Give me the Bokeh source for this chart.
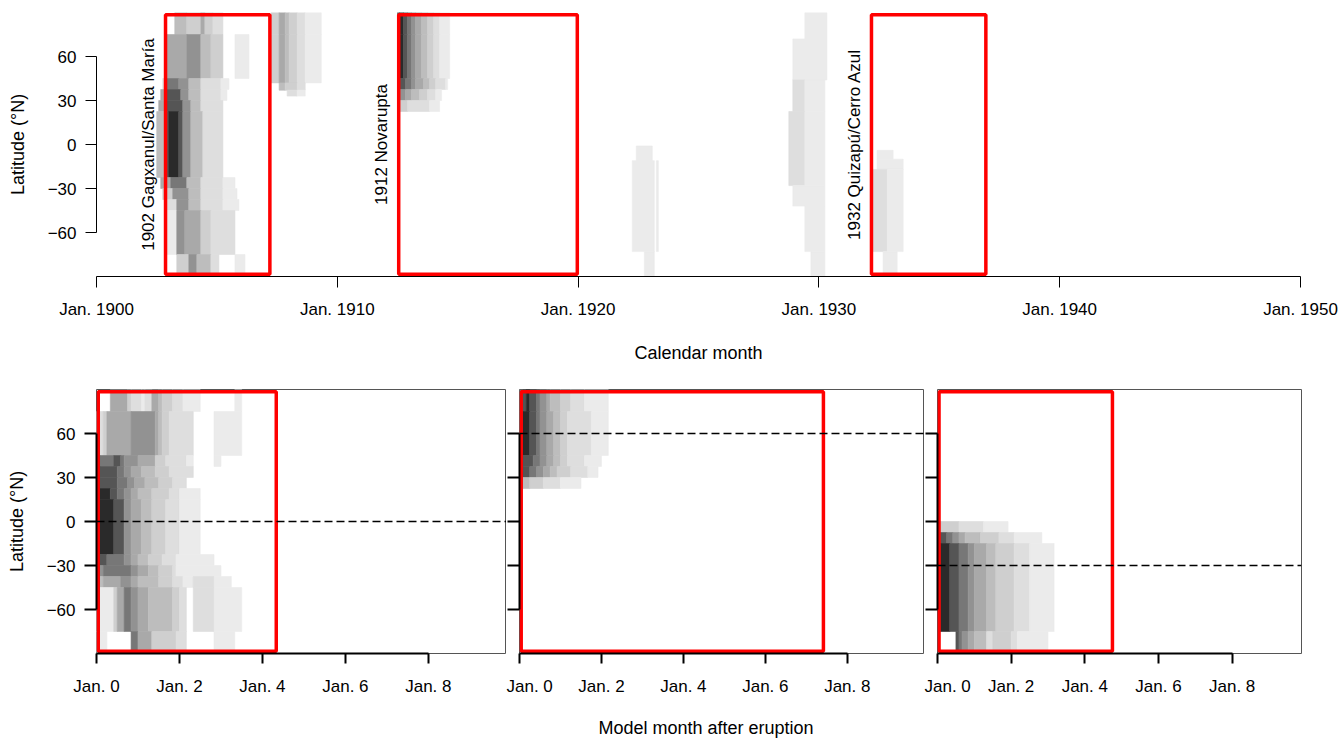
from bokeh.plotting import figure
from bokeh.models import Range1d, FixedTicker, ColumnDataSource, Span, Title
from bokeh.layouts import column, row
from bokeh.embed import file_html
from bokeh.resources import INLINE
from bokeh.core.properties import value
import math

FONT = "Liberation Sans"
FS = "17px"
FS_LAB = "18px"

# ---------------- data ----------------
lat_ticks = [-60, -30, 0, 30, 60]
lat_tick_labels = ["\u221260", "\u221230", "0", "30", "60"]

cal_tick_years = [1900, 1910, 1920, 1930, 1940, 1950]
cal_tick_labels = ["Jan. 1900", "Jan. 1910", "Jan. 1920", "Jan. 1930", "Jan. 1940", "Jan. 1950"]

model_tick_months = [0, 24, 48, 72, 96]
model_tick_labels = ["Jan. 0", "Jan. 2", "Jan. 4", "Jan. 6", "Jan. 8"]

eruption_labels = ["1902 Gagxanul/Santa María", "1912 Novarupta", "1932 Quizapú/Cerro Azul"]
eruption_start_month = [34.4, 150.6, 386.2]   # months since Jan. 1900
window_months = [52, 89, 57]
eruption_ref_lat = [0, 60, -30]

# grey level 0 (white) .. 9 (darkest)
grey_levels = ["#FFFFFF", "#EBEBEB", "#DEDEDE", "#CFCFCF", "#BDBDBD",
               "#A9A9A9", "#929292", "#777777", "#555555", "#2A2A2A"]

# --- calendar (top) panel: (start month since Jan. 1900, rows of (lat_hi, lat_lo, monthly levels))
cal_santa_maria_start = 30
cal_santa_maria = [
    (90, 75, "000000000444444333333355333322222"),
    (75, 45, "0000055555555556666666444443333330000001111111"),
    (45, 37.5, "000227777776666644444422222222221111"),
    (37.5, 30, "00555888888866664444442222222222111"),
    (30, 22.5, "055558888888866664444422222222222"),
    (22.5, -22.5, "444448999998866664444442222222222"),
    (-22.5, -30, "005555577777777444444422222222222111111"),
    (-30, -37.5, "0003333366666666444444222222222221111111"),
    (-37.5, -45, "00002222226666664444442222222222211111111"),
    (-45, -75, "000011111166665555555533333222222222222"),
    (-75, -90, "00000000003333336666444444422220000000011111"),
]
cal_1907_start = 87
cal_1907 = [
    (90, 75, "3333555443333222211111111"),
    (75, 42, "3333555443333222211111111"),
    (42, 37, "00004443333332222"),
    (37, 33, "00000000222221111"),
]
cal_novarupta_start = 150
cal_novarupta = [
    (90, 75, "89988776655544433322211111"),
    (75, 45, "99988776655544433322211111"),
    (45, 37.5, "7888777665555444333222221"),
    (37.5, 30, "6666555444433332222111"),
    (30, 22.5, "333332222222222211111"),
]
cal_1922_start = 267
cal_1922 = [
    (-1, -11, "0011111111"),
    (-11, -73, "1111111111101"),
    (-73, -90, "00000011111"),
]
cal_1929_start = 344
cal_1929 = [
    (90, 72, "00000000011111111111"),
    (72, 44, "00011111111111111111"),
    (44, 22.5, "0002222221111111111"),
    (22.5, -28, "0222222221111111111"),
    (-28, -42, "0001111111111111111"),
    (-42, -73, "0000000001111111111"),
    (-73, -90, "0000000000001111111"),
]
cal_quizapu_start = 387
cal_quizapu = [
    (-4, -10, "0011111111"),
    (-10, -17, "001111111111111"),
    (-17, -73, "222222211111111"),
    (-73, -90, "000001111111"),
]

# --- model panels: months after eruption
model_santa_maria = [
    (90, 75, "0000555553222122554333222111110000000000110"),
    (75, 45, "2235555555666666654332222222000000111111110"),
    (45, 37.5, "4777788766665555533322222211000000110000000"),
    (37.5, 30, "7888887766555444433332222222000000000000000"),
    (30, 22.5, "8888887776655544443333222200000000000000000"),
    (22.5, 15, "9999887766554444333332221111110000000000000"),
    (15, -22.5, "9999988866555444333322221111110000000000000"),
    (-22.5, -30, "8887777766554443333222211111111111000000000"),
    (-30, -37.5, "6677777777665554443333211111111111110000000"),
    (-37.5, -45, "4455555666554444443333222111222222111110000"),
    (-45, -75, "1111135577665554444444332200222222111111110"),
    (-75, -90, "1110000000775555333333322200000000111111000"),
]
model_novarupta = [
    (90, 75, "789887665444333222211111110000"),
    (75, 45, "799887665544332222222111110000"),
    (45, 37.5, "688877665544332222211111000000"),
    (37.5, 30, "688776655443333222221110000000"),
    (30, 22.5, "244333322222111111000000000000"),
]
model_quizapu = [
    (0, -7.5, "2333333222222221111111100000000000000000"),
    (-7.5, -15, "7887766554444433333322222111111111000000"),
    (-15, -75, "8999888777665555444333333222221111111100"),
    (-75, -90, "0000008766554444223333332211111111110000"),
]

cal_events = [
    (cal_santa_maria_start, cal_santa_maria),
    (cal_1907_start, cal_1907),
    (cal_novarupta_start, cal_novarupta),
    (cal_1922_start, cal_1922),
    (cal_1929_start, cal_1929),
    (cal_quizapu_start, cal_quizapu),
]
model_panels = [model_santa_maria, model_novarupta, model_quizapu]


def build_cells(rows, start, scale, offset, data=None):
    if data is None:
        data = dict(left=[], right=[], top=[], bottom=[], color=[])
    for hi, lo, levels in rows:
        n = len(levels)
        i = 0
        while i < n:
            j = i
            while j + 1 < n and levels[j + 1] == levels[i]:
                j += 1
            lv = int(levels[i])
            if lv > 0:
                data["left"].append(offset + (start + i) * scale)
                data["right"].append(offset + (start + j + 1) * scale)
                data["top"].append(hi)
                data["bottom"].append(lo)
                data["color"].append(grey_levels[lv])
            i = j + 1
    return data


def style_common(p):
    p.background_fill_color = "white"
    p.border_fill_color = "white"
    p.xgrid.visible = False
    p.ygrid.visible = False
    for ax in (p.xaxis[0], p.yaxis[0]):
        ax.minor_tick_line_color = None
        ax.major_tick_in = 0
        ax.axis_line_color = "black"
        ax.major_tick_line_color = "black"
        ax.major_label_text_font = FONT
        ax.major_label_text_font_size = FS
        ax.major_label_text_color = "black"
        ax.axis_label_text_font = FONT
        ax.axis_label_text_font_size = FS_LAB
        ax.axis_label_text_font_style = "normal"
        ax.axis_label_text_color = "black"


def style_lat_axis(p, show_labels, tick_w, tick_len):
    ya = p.yaxis[0]
    ya.ticker = FixedTicker(ticks=lat_ticks)
    ya.bounds = (lat_ticks[0], lat_ticks[-1])
    ya.major_tick_out = tick_len
    ya.major_tick_line_width = tick_w
    ya.axis_line_width = tick_w
    if show_labels:
        ya.major_label_overrides = dict(zip(lat_ticks, lat_tick_labels))
        ya.major_label_standoff = 9
        ya.axis_label = "Latitude (°N)"
        ya.axis_label_standoff = 17
    else:
        ya.major_label_overrides = {t: "" for t in lat_ticks}
        ya.major_label_standoff = 0


# ---------------- top panel ----------------
top = figure(frame_width=1204, frame_height=264,
             x_range=Range1d(1900, 1950), y_range=Range1d(-90, 90),
             min_border_left=96, min_border_right=38, min_border_top=12, min_border_bottom=99,
             output_backend="svg", toolbar_location=None)
style_common(top)
top.outline_line_color = None

cal_data = None
for s, rows in cal_events:
    cal_data = build_cells(rows, s, 1 / 12, 1900, cal_data)
top.quad(left="left", right="right", top="top", bottom="bottom", source=ColumnDataSource(cal_data),
         fill_color="color", line_color="color", line_width=0.6)

red_left = [1900 + m / 12 for m in eruption_start_month]
red_right = [1900 + (m + w) / 12 for m, w in zip(eruption_start_month, window_months)]
top.quad(left=red_left, right=red_right, top=[88.5] * 3, bottom=[-88.5] * 3,
         fill_color=None, line_color="#FF0000", line_width=3.5)

label_src = ColumnDataSource(dict(x=[x - 0.71 for x in red_left], y=[0] * 3, text=eruption_labels))
top.text(x="x", y="y", text="text", source=label_src, angle=math.pi / 2,
         text_align="center", text_baseline="middle", text_font=value(FONT),
         text_font_size=FS, text_color="black")

xa = top.xaxis[0]
xa.ticker = FixedTicker(ticks=cal_tick_years)
xa.major_label_overrides = dict(zip(cal_tick_years, cal_tick_labels))
xa.bounds = (cal_tick_years[0], cal_tick_years[-1])
xa.major_tick_out = 11
xa.major_label_standoff = 12
xa.axis_label = "Calendar month"
xa.axis_label_standoff = 21
style_lat_axis(top, True, 1, 11)

# ---------------- bottom panels ----------------
frame_widths = [410, 405, 364]
left_borders = [96, 13, 13]
right_borders = [0, 0, 37]
panels = []
for k in range(3):
    p = figure(frame_width=frame_widths[k], frame_height=264,
               x_range=Range1d(0, 118.6), y_range=Range1d(-90, 90),
               min_border_left=left_borders[k], min_border_right=right_borders[k],
               min_border_top=14, min_border_bottom=85,
               output_backend="svg", toolbar_location=None)
    style_common(p)
    p.outline_line_color = "#555555"
    p.outline_line_width = 1
    d = build_cells(model_panels[k], 0, 1, 0)
    p.quad(left="left", right="right", top="top", bottom="bottom", source=ColumnDataSource(d),
           fill_color="color", line_color="color", line_width=0.6)
    p.add_layout(Span(location=eruption_ref_lat[k], dimension="width", line_color="black",
                      line_dash="8 4", line_width=1.5))
    p.quad(left=[0.5], right=[window_months[k]], top=[88.5], bottom=[-88.5],
           fill_color=None, line_color="#FF0000", line_width=3.5)
    xa = p.xaxis[0]
    xa.ticker = FixedTicker(ticks=model_tick_months)
    xa.major_label_overrides = dict(zip(model_tick_months, model_tick_labels))
    xa.bounds = (model_tick_months[0], model_tick_months[-1])
    xa.major_tick_out = 10
    xa.major_tick_line_width = 2
    xa.axis_line_width = 2
    xa.major_label_standoff = 13
    style_lat_axis(p, k == 0, 2, 12)
    panels.append(p)

panels[1].add_layout(Title(text="Model month after eruption", align="left", offset=79,
                           text_font=FONT, text_font_size=FS_LAB, text_font_style="normal",
                           text_color="black", standoff=35), "below")

layout = column(top, row(*panels))
open("out.html", "w").write(file_html(layout, INLINE))
